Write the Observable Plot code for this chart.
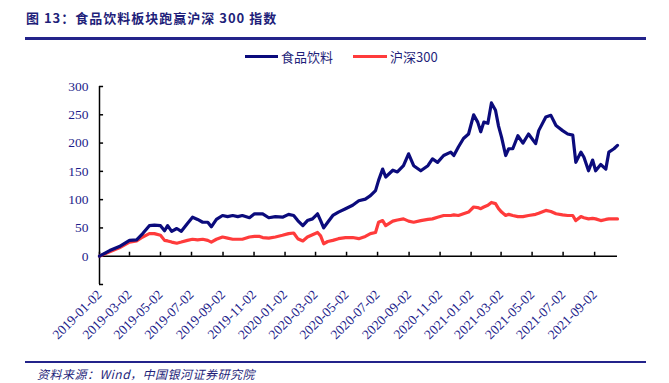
<!DOCTYPE html>
<html><head><meta charset="utf-8">
<script src="https://cdn.jsdelivr.net/npm/d3@7"></script>
<script src="https://cdn.jsdelivr.net/npm/@observablehq/plot@0.6"></script>
<style>
body{margin:0;background:#fff;width:669px;height:383px;position:relative;overflow:hidden;font-family:"Liberation Serif",serif;}
.title{position:absolute;left:26px;top:8px;font:bold 13px "Noto Sans CJK SC",sans-serif;color:#1f1f7a;letter-spacing:1px;}
.rule{position:absolute;left:25px;width:621px;height:3px;background:#23238a;}
.legend{position:absolute;top:47px;left:0;font:13px "Noto Sans CJK SC",sans-serif;color:#1f1f7a;}
.legend span.sw{position:absolute;height:3px;top:8px;}
.legend span.t{position:absolute;top:0;white-space:nowrap;}
.source{position:absolute;left:37px;top:365px;font:italic 12px "Noto Sans CJK SC",sans-serif;color:#1f1f7a;letter-spacing:0.5px;}
#chart{position:absolute;left:0;top:40px;}
</style></head>
<body>
<div class="title">图 13：食品饮料板块跑赢沪深 300 指数</div>
<div class="rule" style="top:37px"></div>
<div class="legend">
  <span class="sw" style="left:245px;width:33px;background:#0b0b7c"></span><span class="t" style="left:281px">食品饮料</span>
  <span class="sw" style="left:353px;width:34px;background:#ff3b3b"></span><span class="t" style="left:390px">沪深300</span>
</div>
<div id="chart"></div>
<div class="rule" style="top:361px;height:2px"></div>
<div class="source">资料来源：Wind，中国银河证券研究院</div>
<script>
const dates = ["2019-01-02","2019-01-22","2019-02-10","2019-03-02","2019-03-16","2019-03-28","2019-04-10","2019-04-20","2019-05-02","2019-05-10","2019-05-16","2019-05-24","2019-06-03","2019-06-12","2019-06-24","2019-07-04","2019-07-14","2019-07-24","2019-08-03","2019-08-10","2019-08-20","2019-09-01","2019-09-11","2019-09-21","2019-10-01","2019-10-10","2019-10-24","2019-11-03","2019-11-13","2019-11-19","2019-12-01","2019-12-14","2019-12-28","2020-01-09","2020-01-19","2020-01-27","2020-02-06","2020-02-15","2020-02-25","2020-03-06","2020-03-12","2020-03-18","2020-03-26","2020-04-05","2020-04-16","2020-04-30","2020-05-14","2020-05-26","2020-06-08","2020-06-18","2020-06-28","2020-07-04","2020-07-12","2020-07-18","2020-08-01","2020-08-10","2020-08-22","2020-09-01","2020-09-11","2020-09-25","2020-10-09","2020-10-18","2020-10-28","2020-11-09","2020-11-23","2020-11-29","2020-12-08","2020-12-18","2020-12-28","2021-01-07","2021-01-15","2021-01-21","2021-01-27","2021-02-04","2021-02-11","2021-02-19","2021-02-25","2021-03-03","2021-03-11","2021-03-17","2021-03-25","2021-04-04","2021-04-14","2021-04-25","2021-05-09","2021-05-15","2021-05-29","2021-06-08","2021-06-18","2021-07-01","2021-07-11","2021-07-21","2021-07-27","2021-08-06","2021-08-12","2021-08-21","2021-08-29","2021-09-04","2021-09-14","2021-09-24","2021-09-30","2021-10-10","2021-10-17"];
const food = [0,10,17,28,29,40,54,55,54,45,54,44,49,44,58,69,65,60,60,52,65,72,70,72,70,72,68,75,75,75,68,70,69,74,72,63,54,63,66,75,63,50,60,72,78,84,90,98,101,107,116,134,154,140,152,149,160,181,160,151,160,172,166,178,184,178,193,208,216,250,237,220,237,235,271,258,230,210,178,190,190,213,200,216,199,222,246,249,231,222,216,214,166,184,175,151,170,151,162,154,184,190,196];
const hs300 = [0,8,15,25,27,34,40,40,37,28,27,25,23,25,28,30,29,30,28,25,30,34,32,30,30,30,34,35,35,33,32,34,37,40,41,31,27,34,38,42,36,22,26,28,31,33,33,31,35,40,42,60,63,54,62,64,66,62,60,63,65,66,69,72,72,73,72,75,78,87,86,84,87,90,95,93,84,78,72,74,72,70,70,72,74,76,81,79,75,73,72,72,63,70,68,66,67,66,63,65,66,66,66];
const xTicks = ["2019-01-02","2019-03-02","2019-05-02","2019-07-02","2019-09-02","2019-11-02","2020-01-02","2020-03-02","2020-05-02","2020-07-02","2020-09-02","2020-11-02","2021-01-02","2021-03-02","2021-05-02","2021-07-02","2021-09-02"];
const yTicks = [0,50,100,150,200,250,300];
const yTickMarks = [-50,0,50,100,150,200,250,300];

const parse = d3.utcParse("%Y-%m-%d");
const rows = dates.map((d,i)=>({date:parse(d), food:food[i], hs300:hs300[i]}));
const xT = xTicks.map(parse);
const x0 = parse("2019-01-02"), x1 = parse("2021-10-17");
const navy = "#1c1c8a";
const tickLen = 8*24*3600*1000;

const chart = Plot.plot({
  width: 669, height: 320,
  marginTop: 46, marginBottom: 76, marginLeft: 99, marginRight: 52,
  style:{fontFamily:"'Liberation Serif', serif", fontSize:"13px", color:navy, background:"transparent"},
  x:{type:"utc", domain:[x0,x1]},
  y:{domain:[-50,300]},
  marks:[
    Plot.axisY({ticks:yTicks, tickSize:0, tickPadding:11, fill:navy, fontSize:13.5}),
    Plot.axisX({ticks:xT, tickFormat:d3.utcFormat("%Y-%m-%d"), tickSize:0, tickPadding:8, tickRotate:-45, fill:navy, fontSize:13.5}),
    Plot.ruleX([x0], {y1:-50, y2:300, stroke:"#000", strokeWidth:1.5}),
    Plot.ruleY(yTickMarks, {x1:x0, x2:new Date(+x0+tickLen), stroke:"#000", strokeWidth:1.5}),
    Plot.ruleY([0], {x1:x0, x2:x1, stroke:"#000", strokeWidth:1.5}),
    Plot.ruleX(xT, {y1:0, y2:7, stroke:"#000", strokeWidth:1.5}),
    Plot.line(rows, {x:"date", y:"hs300", stroke:"#ff3b3b", strokeWidth:3.2}),
    Plot.line(rows, {x:"date", y:"food", stroke:"#0b0b7c", strokeWidth:3.2})
  ]
});
document.getElementById("chart").appendChild(chart);
</script>
</body></html>
